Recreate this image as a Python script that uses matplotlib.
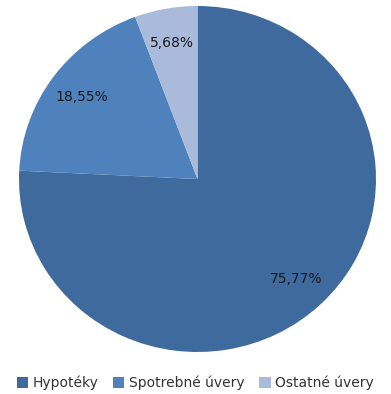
import matplotlib
matplotlib.use("Agg")
import matplotlib.pyplot as plt

categories = ["Hypotéky", "Spotrebné úvery", "Ostatné úvery"]
values = [75.77, 18.55, 5.68]
colors = ["#3E6A9E", "#4F81BD", "#A9BADB"]

fig = plt.figure(figsize=(3.91, 3.94), dpi=100)
ax = fig.add_axes([19/391, 42/394, 357/391, 346/394])
wedges, texts, autotexts = ax.pie(
    values, colors=colors, startangle=90, counterclock=False,
    autopct=lambda p: f"{p:.2f}%".replace(".", ","), pctdistance=0.8,
    wedgeprops=dict(linewidth=0),
    textprops=dict(fontsize=10, color="#1a1a1a", family="DejaVu Sans"))
ax.set_aspect("auto")
ax.set_xlim(-1, 1)
ax.set_ylim(-1, 1)

leg = fig.legend(wedges, categories, loc="center", bbox_to_anchor=(0.5, 1 - 383/394),
                 ncol=3, frameon=False, handlelength=0.8, handleheight=0.8,
                 handletextpad=0.35, columnspacing=1.05, fontsize=10)
for t in leg.get_texts():
    t.set_color("#333333")

fig.savefig("out.png", dpi=100)
